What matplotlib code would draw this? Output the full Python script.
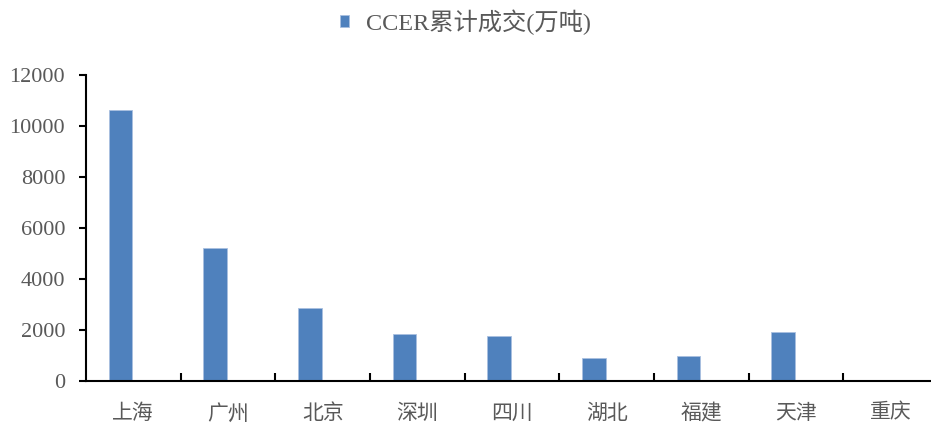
import matplotlib
matplotlib.use("Agg")
import matplotlib.pyplot as plt

plt.rcParams['font.family'] = ['Liberation Serif', 'Noto Sans CJK SC', 'DejaVu Sans']

cities = ['上海', '广州', '北京', '深圳', '四川', '湖北', '福建', '天津', '重庆']
ccer = [10620, 5200, 2880, 1860, 1770, 900, 990, 1920, 0]
yticks = [0, 2000, 4000, 6000, 8000, 10000, 12000]

bar_color = '#4F81BD'
text_color = '#595959'

fig = plt.figure(figsize=(9.31, 4.25), dpi=100)
ax = fig.add_axes([86 / 931, 44 / 425, 852 / 931, 306 / 425])

x = list(range(len(cities)))
# bars sit left of the category centre (empty second series slot in the original)
ax.bar([i - 0.135 for i in x], ccer, width=0.25, color=bar_color, edgecolor='#A9C0E0',
       linewidth=0.6, label='CCER累计成交(万吨)')

ax.set_xlim(-0.5, len(cities) - 0.5)
ax.set_ylim(0, 12000)
ax.set_yticks(yticks)
ax.set_yticklabels([str(v) for v in yticks])
ax.set_xticks(x)
ax.set_xticklabels(cities)
ax.set_xticks([i + 0.5 for i in x[:-1]], minor=True)

ax.tick_params(axis='x', which='major', length=0, pad=17, labelsize=15, labelcolor=text_color)
ax.tick_params(axis='x', which='minor', direction='in', length=6, width=1.5, color='black')
ax.tick_params(axis='y', direction='out', length=5, width=1.5, pad=10, labelsize=16,
               labelcolor=text_color)

for s in ['top', 'right']:
    ax.spines[s].set_visible(False)
for s in ['left', 'bottom']:
    ax.spines[s].set_linewidth(1.5)
    ax.spines[s].set_color('black')

leg = fig.legend(loc='upper center', bbox_to_anchor=(0.5, 1.03), frameon=False,
                 fontsize=17.5, handlelength=0.35, handleheight=0.35, handletextpad=0.7)
for t in leg.get_texts():
    t.set_color(text_color)

fig.savefig('out.png', dpi=100)
